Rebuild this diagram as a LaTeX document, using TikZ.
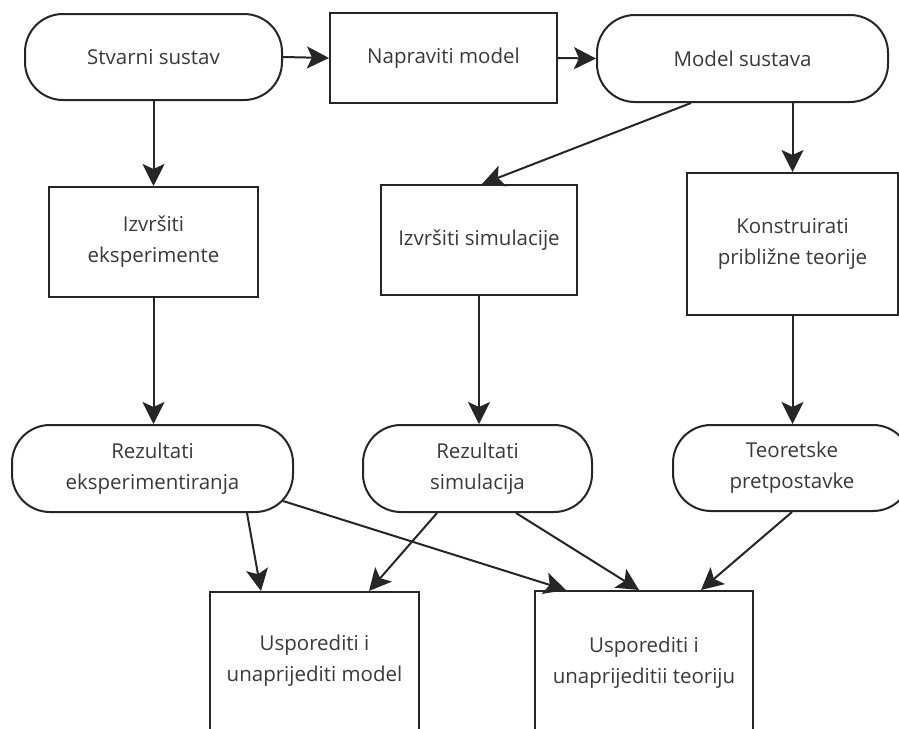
\documentclass[tikz,border=0pt]{standalone}
\usepackage{fontspec}
\setmainfont{Open Sans}
\usetikzlibrary{arrows.meta,calc}
\definecolor{linec}{HTML}{262626}
\definecolor{textc}{HTML}{3A3A3A}
\begin{document}
\begin{tikzpicture}[x=1pt,y=-1pt,
  box/.style={draw=linec, line width=2pt, fill=white, text=textc, align=center,
    font=\fontsize{20.5}{31}\selectfont, inner sep=0pt},
  term/.style={box, rounded corners=38pt},
  arr/.style={draw=linec, line width=2pt, -{Stealth[length=22pt,width=22pt,inset=5pt]}}]
\useasboundingbox (0,0) rectangle (899,728);
\fill[white] (0,0) rectangle (899,728);
\begin{scope}
\clip (0,0) rectangle (899,728);
% top row
\node[term, minimum width=257pt, minimum height=86pt] (ss) at (153.5,57) {Stvarni sustav};
\node[box, minimum width=227pt, minimum height=90pt] (nm) at (443.5,58) {Napraviti model};
\node[term, minimum width=291pt, minimum height=87pt] (ms) at (742.5,58.5) {Model sustava};
% middle row
\node[box, minimum width=209pt, minimum height=110pt] (ie) at (153.5,242) {Izvršiti\\eksperimente};
\node[box, minimum width=196pt, minimum height=110pt] (is) at (479,240) {Izvršiti simulacije};
\node[box, minimum width=211pt, minimum height=142pt] (kt) at (792.5,244) {Konstruirati\\približne teorije};
% results row
\node[term, minimum width=281pt, minimum height=87pt] (re) at (152.5,468.5) {Rezultati\\eksperimentiranja};
\node[term, minimum width=229pt, minimum height=87pt] (rs) at (477.5,468.5) {Rezultati\\simulacija};
\node[term, minimum width=238pt, minimum height=86pt] (tp) at (792,468) {Teoretske\\pretpostavke};
% bottom row
\node[box, minimum width=209pt, minimum height=138pt] (um) at (314.5,661) {Usporediti i\\unaprijediti model};
\node[box, minimum width=218pt, minimum height=144pt] (ut) at (644,663) {Usporediti i\\unaprijeditii teoriju};
% connectors
\draw[arr] (ss.east) -- (nm.west);
\draw[arr] (nm.east) -- (ms.west);
\draw[arr] (ss.south) -- (ss.south |- ie.north);
\draw[arr] ($(ms.south west)+(95,0)$) -- ($(is.north)+(3,0)$);
\draw[arr] (kt.north |- ms.south) -- (kt.north);
\draw[arr] (ie.south) -- (ie.south |- re.north);
\draw[arr] (is.south) -- (is.south |- rs.north);
\draw[arr] (kt.south) -- (kt.south |- tp.north);
\draw[arr] ($(re.south)+(94.5,0)$) -- ($(um.north west)+(52,0)$);
\draw[arr] ($(re.south east)+(-11,-12)$) -- ($(ut.north west)+(32,0)$);
\draw[arr] ($(rs.south west)+(75,0)$) -- ($(um.north east)+(-51,0)$);
\draw[arr] ($(rs.south west)+(154,0)$) -- ($(ut.north west)+(105,0)$);
\draw[arr] (tp.south) -- ($(ut.north east)+(-53,0)$);
\end{scope}
\end{tikzpicture}
\end{document}
